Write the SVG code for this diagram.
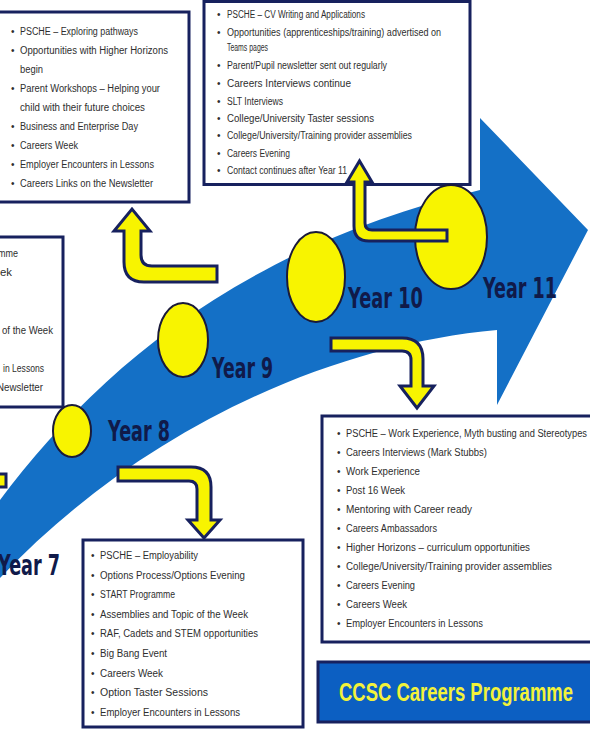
<svg xmlns="http://www.w3.org/2000/svg" width="590" height="729" viewBox="0 0 590 729">
<style>
.box{fill:#ffffff;stroke:#17215e;stroke-width:3}
.t{font-family:"Liberation Sans",Arial,sans-serif;font-size:10px;fill:#2e2e2e}
.ts{font-family:"Liberation Sans",Arial,sans-serif;font-size:10px;fill:#2e2e2e}
.yr{font-family:"DejaVu Sans","Liberation Sans",sans-serif;font-weight:bold;font-size:28px;fill:#101a4a}
.dot{fill:#f8f400;stroke:#1a1a3a;stroke-width:2}
.ya{fill:#f8f400;stroke:#17215e;stroke-width:3;stroke-linejoin:miter}
</style>
<rect width="590" height="729" fill="#ffffff"/>

<g id="timeline-arrow">
<path d="M0,500 C90,380 230,250 480,190 L480,118 L588,230 L497,405 L497,330 C330,345 140,430 0,578 Z" fill="#1470c6"/>
</g>

<g id="box-year7">
<rect class="box" x="-10" y="237" width="73" height="170"/>
<text class="t" x="-2" y="256.5" textLength="20" lengthAdjust="spacingAndGlyphs">mme</text>
<text class="t" x="0" y="275.5" textLength="12" lengthAdjust="spacingAndGlyphs">ek</text>
<text class="t" x="2" y="333.5" textLength="51" lengthAdjust="spacingAndGlyphs">of the Week</text>
<text class="t" x="3" y="371.5" textLength="41" lengthAdjust="spacingAndGlyphs">in Lessons</text>
<text class="t" x="-3" y="390.5" textLength="46" lengthAdjust="spacingAndGlyphs">Newsletter</text>
</g>

<g id="box-year9">
<rect class="box" x="-10" y="12" width="199" height="190"/>
<g class="t">
<text x="11" y="34.5">•</text><text x="20" y="34.5" textLength="118" lengthAdjust="spacingAndGlyphs">PSCHE – Exploring pathways</text>
<text x="11" y="53.5">•</text><text x="20" y="53.5" textLength="148" lengthAdjust="spacingAndGlyphs">Opportunities with Higher Horizons</text>
<text x="20" y="72.5" textLength="23" lengthAdjust="spacingAndGlyphs">begin</text>
<text x="11" y="91.5">•</text><text x="20" y="91.5" textLength="140" lengthAdjust="spacingAndGlyphs">Parent Workshops – Helping your</text>
<text x="20" y="110.5" textLength="125" lengthAdjust="spacingAndGlyphs">child with their future choices</text>
<text x="11" y="129.5">•</text><text x="20" y="129.5" textLength="118" lengthAdjust="spacingAndGlyphs">Business and Enterprise Day</text>
<text x="11" y="148.5">•</text><text x="20" y="148.5" textLength="58" lengthAdjust="spacingAndGlyphs">Careers Week</text>
<text x="11" y="167.5">•</text><text x="20" y="167.5" textLength="134" lengthAdjust="spacingAndGlyphs">Employer Encounters in Lessons</text>
<text x="11" y="186.5">•</text><text x="20" y="186.5" textLength="133" lengthAdjust="spacingAndGlyphs">Careers Links on the Newsletter</text>
</g>
</g>

<g id="box-year11">
<rect class="box" x="204" y="1.5" width="266" height="183"/>
<g class="ts">
<text x="217" y="17.5">•</text><text x="227" y="17.5" textLength="138" lengthAdjust="spacingAndGlyphs">PSCHE – CV Writing and Applications</text>
<text x="217" y="35.5">•</text><text x="227" y="35.5" textLength="214" lengthAdjust="spacingAndGlyphs">Opportunities (apprenticeships/training) advertised on</text>
<text x="227" y="50.5" textLength="41" lengthAdjust="spacingAndGlyphs">Teams pages</text>
<text x="217" y="69">•</text><text x="227" y="69" textLength="160" lengthAdjust="spacingAndGlyphs">Parent/Pupil newsletter sent out regularly</text>
<text x="217" y="87">•</text><text x="227" y="87" textLength="124" lengthAdjust="spacingAndGlyphs">Careers Interviews continue</text>
<text x="217" y="104.5">•</text><text x="227" y="104.5" textLength="56" lengthAdjust="spacingAndGlyphs">SLT Interviews</text>
<text x="217" y="121.5">•</text><text x="227" y="121.5" textLength="147" lengthAdjust="spacingAndGlyphs">College/University Taster sessions</text>
<text x="217" y="139">•</text><text x="227" y="139" textLength="185" lengthAdjust="spacingAndGlyphs">College/University/Training provider assemblies</text>
<text x="217" y="156.5">•</text><text x="227" y="156.5" textLength="63" lengthAdjust="spacingAndGlyphs">Careers Evening</text>
<text x="217" y="174">•</text><text x="227" y="174" textLength="120" lengthAdjust="spacingAndGlyphs">Contact continues after Year 11</text>
</g>
</g>

<g id="box-year10">
<rect class="box" x="322" y="416" width="280" height="226"/>
<g class="t">
<text x="337" y="436.5">•</text><text x="346" y="436.5" textLength="241" lengthAdjust="spacingAndGlyphs">PSCHE – Work Experience, Myth busting and Stereotypes</text>
<text x="337" y="455.5">•</text><text x="346" y="455.5" textLength="141" lengthAdjust="spacingAndGlyphs">Careers Interviews (Mark Stubbs)</text>
<text x="337" y="474.5">•</text><text x="346" y="474.5" textLength="74" lengthAdjust="spacingAndGlyphs">Work Experience</text>
<text x="337" y="493.5">•</text><text x="346" y="493.5" textLength="59" lengthAdjust="spacingAndGlyphs">Post 16 Week</text>
<text x="337" y="512.5">•</text><text x="346" y="512.5" textLength="126" lengthAdjust="spacingAndGlyphs">Mentoring with Career ready</text>
<text x="337" y="531.5">•</text><text x="346" y="531.5" textLength="91" lengthAdjust="spacingAndGlyphs">Careers Ambassadors</text>
<text x="337" y="550.5">•</text><text x="346" y="550.5" textLength="184" lengthAdjust="spacingAndGlyphs">Higher Horizons – curriculum opportunities</text>
<text x="337" y="569.5">•</text><text x="346" y="569.5" textLength="206" lengthAdjust="spacingAndGlyphs">College/University/Training provider assemblies</text>
<text x="337" y="588.5">•</text><text x="346" y="588.5" textLength="69" lengthAdjust="spacingAndGlyphs">Careers Evening</text>
<text x="337" y="607.5">•</text><text x="346" y="607.5" textLength="61" lengthAdjust="spacingAndGlyphs">Careers Week</text>
<text x="337" y="626.5">•</text><text x="346" y="626.5" textLength="137" lengthAdjust="spacingAndGlyphs">Employer Encounters in Lessons</text>
</g>
</g>

<g id="box-year8">
<rect class="box" x="83" y="540" width="220" height="187"/>
<g class="t">
<text x="91" y="559">•</text><text x="100" y="559" textLength="98" lengthAdjust="spacingAndGlyphs">PSCHE – Employability</text>
<text x="91" y="578.6">•</text><text x="100" y="578.6" textLength="145" lengthAdjust="spacingAndGlyphs">Options Process/Options Evening</text>
<text x="91" y="598.2">•</text><text x="100" y="598.2" textLength="75" lengthAdjust="spacingAndGlyphs">START Programme</text>
<text x="91" y="617.8">•</text><text x="100" y="617.8" textLength="148" lengthAdjust="spacingAndGlyphs">Assemblies and Topic of the Week</text>
<text x="91" y="637.4">•</text><text x="100" y="637.4" textLength="158" lengthAdjust="spacingAndGlyphs">RAF, Cadets and STEM opportunities</text>
<text x="91" y="657">•</text><text x="100" y="657" textLength="67" lengthAdjust="spacingAndGlyphs">Big Bang Event</text>
<text x="91" y="676.6">•</text><text x="100" y="676.6" textLength="63" lengthAdjust="spacingAndGlyphs">Careers Week</text>
<text x="91" y="696.2">•</text><text x="100" y="696.2" textLength="108" lengthAdjust="spacingAndGlyphs">Option Taster Sessions</text>
<text x="91" y="715.8">•</text><text x="100" y="715.8" textLength="140" lengthAdjust="spacingAndGlyphs">Employer Encounters in Lessons</text>
</g>
</g>

<g id="title">
<rect x="318" y="662" width="280" height="60" fill="#0c5fc2" stroke="#17215e" stroke-width="3"/>
<text x="339" y="701" textLength="234" lengthAdjust="spacingAndGlyphs" font-family="Liberation Sans, Arial, sans-serif" font-weight="bold" font-size="26" fill="#f2f23a">CCSC Careers Programme</text>
</g>

<g id="year8">
<ellipse class="dot" cx="72" cy="431" rx="19" ry="26"/>
<text class="yr" x="108" y="441" textLength="62" lengthAdjust="spacingAndGlyphs">Year 8</text>
</g>
<g id="year9">
<ellipse class="dot" cx="183" cy="340" rx="25" ry="37"/>
<text class="yr" x="212" y="378" textLength="61" lengthAdjust="spacingAndGlyphs">Year 9</text>
</g>
<g id="year10">
<ellipse class="dot" cx="316" cy="277" rx="29" ry="45"/>
<text class="yr" x="348" y="308" textLength="75" lengthAdjust="spacingAndGlyphs">Year 10</text>
</g>
<g id="year11">
<ellipse class="dot" cx="451" cy="237" rx="36" ry="52"/>
<text class="yr" x="483" y="298" textLength="74" lengthAdjust="spacingAndGlyphs">Year 11</text>
</g>
<g id="year7">
<text class="yr" x="-2" y="575" textLength="62" lengthAdjust="spacingAndGlyphs">Year 7</text>
</g>

<g id="connectors">
<path class="ya" d="M-10,474 L6,474 L6,487 L-10,487 Z"/>
<path class="ya" d="M217,266 L152,266 Q141,266 141,255 L141,231 L150,231 L132,209 L114,231 L124,231 L124,262 Q124,282 144,282 L217,282 Z"/>
<path class="ya" d="M118,467 L191,467 Q211,467 211,487 L211,520 L220,520 L204,538 L188,520 L197,520 L197,489 Q197,481 189,481 L118,481 Z"/>
<path class="ya" d="M331,338 L402,338 Q423,338 423,359 L423,386 L434,386 L417,408 L400,386 L411,386 L411,360 Q411,351 402,351 L331,351 Z"/>
<path class="ya" d="M447,230 L372,230 Q365,230 365,223 L365,182 L372,182 L359.5,161 L347,182 L354,182 L354,226 Q354,241 369,241 L447,241 Z"/>
</g>
</svg>
